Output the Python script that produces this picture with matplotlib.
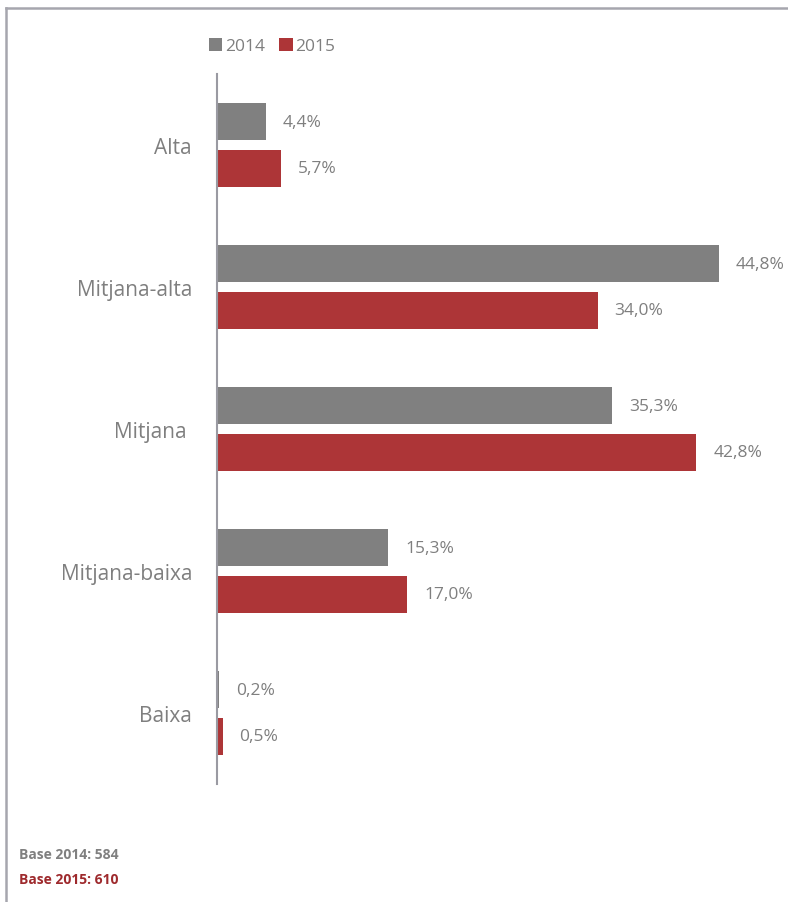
import numpy as np
import matplotlib.pyplot as plt
from matplotlib.patches import Patch
from matplotlib.lines import Line2D

# Dades: classe social percebuda, percentatges per any
categories = ["Alta", "Mitjana-alta", "Mitjana ", "Mitjana-baixa", "Baixa"]
valors_2014 = [4.4, 44.8, 35.3, 15.3, 0.2]
valors_2015 = [5.7, 34.0, 42.8, 17.0, 0.5]
etiquetes_2014 = ["4,4%", "44,8%", "35,3%", "15,3%", "0,2%"]
etiquetes_2015 = ["5,7%", "34,0%", "42,8%", "17,0%", "0,5%"]
bases = ["Base 2014: 584", "Base 2015: 610"]

GRIS = "#808080"
VERMELL = "#AD3537"
TEXT = "#7F7F7F"
VORA = "#A6A6AE"

plt.rcParams['font.family'] = ['Open Sans', 'DejaVu Sans']

fig = plt.figure(figsize=(7.88, 9.03), dpi=100)
ax = fig.add_axes([217 / 788, 118 / 903, 560 / 788, 710 / 903])

y = np.arange(len(categories))
alt = 0.26
sep = 0.035
ax.barh(y - alt / 2 - sep, valors_2014, height=alt, color=GRIS, label="2014")
ax.barh(y + alt / 2 + sep, valors_2015, height=alt, color=VERMELL, label="2015")

for i in range(len(categories)):
    ax.text(valors_2014[i] + 1.5, y[i] - alt / 2 - sep, etiquetes_2014[i],
            va="center", ha="left", fontsize=12.5, color=TEXT)
    ax.text(valors_2015[i] + 1.5, y[i] + alt / 2 + sep, etiquetes_2015[i],
            va="center", ha="left", fontsize=12.5, color=TEXT)

ax.set_xlim(0, 50)
ax.set_ylim(len(categories) - 0.5, -0.5)
ax.set_yticks(y)
ax.set_yticklabels(categories, fontsize=15, color=TEXT)
ax.tick_params(axis="y", length=0, pad=18)
ax.set_xticks([])
for s in ["top", "right", "bottom"]:
    ax.spines[s].set_visible(False)
ax.spines["left"].set_color("#9A9AA2")
ax.spines["left"].set_linewidth(1.5)

# Llegenda a la part superior
handles = [Patch(facecolor=GRIS), Patch(facecolor=VERMELL)]
fig.legend(handles, ["2014", "2015"], loc="center", bbox_to_anchor=(272 / 788, 1 - 47 / 903),
           ncol=2, frameon=False, handlelength=0.8, handleheight=0.85,
           handletextpad=0.15, columnspacing=0.8, labelcolor=TEXT, fontsize=12.5)

# Marc exterior (vora superior i esquerra)
fig.add_artist(Line2D([6 / 788, 6 / 788], [0, 1 - 9 / 903], color=VORA, lw=1.8,
                      transform=fig.transFigure))
fig.add_artist(Line2D([6 / 788, 1], [1 - 9 / 903, 1 - 9 / 903], color=VORA, lw=1.8,
                      transform=fig.transFigure))

# Bases
fig.text(19 / 788, 1 - 855 / 903, bases[0], fontsize=10, fontweight="bold",
         color=GRIS, va="center")
fig.text(19 / 788, 1 - 880 / 903, bases[1], fontsize=10, fontweight="bold",
         color="#9E2A2D", va="center")

fig.savefig("out.png", dpi=100, facecolor="white")
